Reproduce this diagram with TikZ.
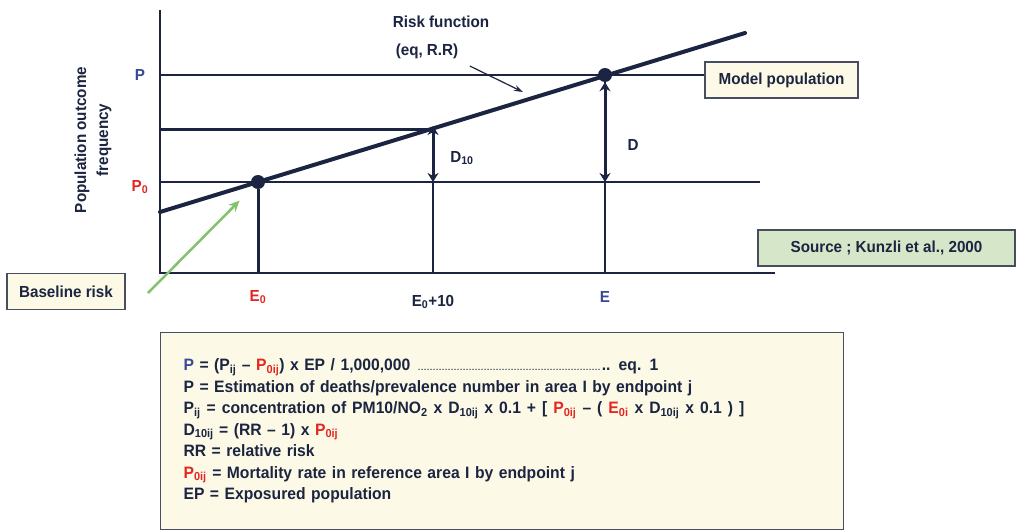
\documentclass[tikz,border=0pt]{standalone}
\usepackage{fontspec}
\setmainfont{Liberation Sans}[FakeStretch=0.95]
\usetikzlibrary{arrows.meta}
\definecolor{navy}{RGB}{27,36,64}
\definecolor{bleu}{RGB}{58,72,150}
\definecolor{rouge}{RGB}{228,38,34}
\definecolor{creme}{RGB}{252,250,230}
\definecolor{vertclair}{RGB}{214,230,200}
\definecolor{vertfleche}{RGB}{130,195,110}
\definecolor{bord}{RGB}{70,78,95}
\begin{document}
\begin{tikzpicture}[x=1pt,y=-1pt,font=\fontsize{16}{22}\selectfont\bfseries,text=navy]
\tikzstyle{fin} = [draw=navy,line width=1.3pt] %traits fins
\tikzstyle{epais} = [draw=navy,line width=3pt]
\tikzstyle{courbe} = [draw=navy,line width=4pt,line cap=round]
\tikzstyle{point} = [circle,fill=navy,inner sep=0pt,minimum size=14pt]
\tikzstyle{double} = [draw=navy,line width=3pt,{Stealth[length=9pt,width=11pt]}-{Stealth[length=9pt,width=11pt]}]
\tikzstyle{boite} = [draw=bord,line width=1.2pt,fill=creme,minimum height=36pt]
\useasboundingbox[fill=white] (0,0) rectangle (1018,530);
%axes
\coordinate (O) at (160,273);
\coordinate (Yhaut) at (160,10);
\coordinate (Xfin) at (775,273);
\coordinate (P) at (160,75);
\coordinate (P0) at (160,182);
\coordinate (P10) at (160,129);
\draw[fin,line width=2pt] (Yhaut) -- (O) -- (Xfin);
%boites
\node[boite,minimum width=153pt] (modele) at (781.5,80) {Model population};
\node[boite,fill=vertclair,minimum width=257pt] (source) at (886.5,248) {Source ; Kunzli et al., 2000};
\node[boite,minimum width=118pt] (base) at (66,291.5) {Baseline risk};
%points de la fonction
\node[point] (A0) at (258,182) {};
\node[point] (A) at (605,75) {};
\coordinate (A10) at (433,129);
\coordinate (R0) at (160,212);
\coordinate (R1) at (745,33);
%lignes horizontales
\draw[fin] (P) -- (modele.west |- P);
\draw[fin] (P0) -- (760,182);
\draw[epais] (P10) -- (A10);
%lignes verticales
\draw[epais] (A0) -- (A0 |- O);
\draw[fin] (A10) -- (A10 |- O);
\draw[fin] (A) -- (A |- O);
%fonction de risque
\draw[courbe] (R0) -- (R1);
\draw[double] ([yshift=3pt]A10) -- (A10 |- P0);
\draw[double] ([yshift=5pt]A) -- (A |- P0);
%etiquettes
\node[text=bleu] (lP) at (140,75) {P};
\node[text=rouge] (lP0) at (140,187) {P\textsubscript{0}};
\node[text=rouge] (lE0) at (258,297) {E\textsubscript{0}};
\node (lE10) at (433,302) {E\textsubscript{0}+10};
\node[text=bleu] (lE) at (605,297) {E};
\node (lD10) at (462,158) {D\textsubscript{10}};
\node (lD) at (633,145) {D};
\node (rf) at (441,22) {Risk function};
\node (eqrr) at (427,51) {(eq, R.R)};
\coordinate (pointe) at (523,92);
\draw[navy,line width=1.2pt,-{Stealth[length=9pt,width=6pt]}] ([shift={(8,4)}]eqrr.south east) -- (pointe);
\coordinate (queue) at (148,293);
\draw[vertfleche,line width=2.5pt,-{Stealth[length=11pt,width=10pt]},shorten >=19pt] (queue) -- (A0);
\node[rotate=90,align=center] (ylab) at (93,140) {Population outcome\\frequency};
%equations
\node[boite,anchor=north west,minimum width=683pt,minimum height=197pt,text width=637pt,inner xsep=23pt,align=left,font=\fontsize{16.5}{21.5}\selectfont\bfseries] (equations) at (160,332) {%
{\color{bleu}P} = (P\textsubscript{ij} -- {\color{rouge}P\textsubscript{0ij}}) x EP / 1,000,000 \leaders\hbox to 3pt{\hss\fontsize{8}{8}\selectfont.\hss}\hskip 186pt.. eq. 1\\
P = Estimation of deaths/prevalence number in area I by endpoint j\\
{\spaceskip=6pt plus 1pt P\textsubscript{ij} = concentration of PM10/NO\textsubscript{2} x D\textsubscript{10ij} x 0.1 + [ {\color{rouge}P\textsubscript{0ij}} -- ( {\color{rouge}E\textsubscript{0i}} x D\textsubscript{10ij} x 0.1 ) ]}\\
D\textsubscript{10ij} = (RR -- 1) x {\color{rouge}P\textsubscript{0ij}}\\
RR = relative risk\\
{\color{rouge}P\textsubscript{0ij}} = Mortality rate in reference area I by endpoint j\\
EP = Exposured population};
\end{tikzpicture}
\end{document}
